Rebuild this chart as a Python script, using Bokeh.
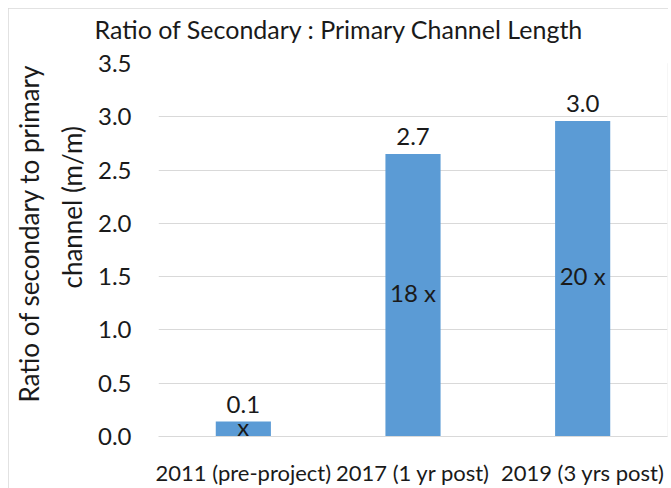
from bokeh.plotting import figure
from bokeh.models import ColumnDataSource, Range1d, FixedTicker, NumeralTickFormatter, Title
from bokeh.core.properties import value
from bokeh.embed import file_html
from bokeh.resources import INLINE

categories = ["2011 (pre-project)", "2017 (1 yr post)", "2019 (3 yrs post)"]
ratios = [0.14, 2.65, 2.96]
top_labels = ["0.1", "2.7", "3.0"]
inner_labels = ["x", "18 x", "20 x"]
y_ticks = [0.0, 0.5, 1.0, 1.5, 2.0, 2.5, 3.0, 3.5]

FONT = "Lato"
BAR = "#5b9bd5"
TXT = "#1a1a1a"
GRID = "#d9d9d9"

xs = list(range(len(categories)))
src = ColumnDataSource(dict(
    x=xs, top=ratios, half=[r / 2 for r in ratios],
    top_labels=top_labels, inner_labels=inner_labels,
))

p = figure(width=660, height=480, x_range=Range1d(-0.5, 2.5), y_range=Range1d(0, 3.5),
           output_backend="svg", toolbar_location=None,
           min_border_left=142, min_border_right=1, min_border_top=53, min_border_bottom=51)
p.styles = {"margin-left": "8px", "margin-top": "8px",
            "outline": "1px solid #d9d9d9", "outline-offset": "-1px"}

p.vbar(x="x", top="top", width=0.325, bottom=0, source=src, fill_color=BAR, line_color=None)
p.text(x="x", y="top", text="top_labels", source=src, text_align="center", text_baseline="bottom",
       y_offset=-9, text_font=value(FONT), text_font_size="24px", text_color=TXT)
p.text(x="x", y="half", text="inner_labels", source=src, text_align="center", text_baseline="middle",
       y_offset=-3, text_font=value(FONT), text_font_size="24px", text_color=TXT)

# chart title
p.title.text = "Ratio of Secondary : Primary Channel Length"
p.title.align = "left"
p.title.offset = -64
p.title.standoff = 6
p.title.text_font = FONT
p.title.text_font_size = "25px"
p.title.text_font_style = "normal"
p.title.text_color = TXT
# spacer between the frame and the chart title (appended = nearer the frame)
p.add_layout(Title(text=" ", text_font_size="1px", standoff=14), "above")

# axes
p.yaxis.ticker = FixedTicker(ticks=y_ticks)
p.yaxis.formatter = NumeralTickFormatter(format="0.0")
p.yaxis.axis_line_color = None
p.yaxis.major_tick_line_color = None
p.yaxis.minor_tick_line_color = None
p.yaxis.major_tick_out = 0
p.yaxis.major_label_standoff = 27
p.yaxis.major_label_text_font = FONT
p.yaxis.major_label_text_font_size = "24px"
p.yaxis.major_label_text_color = TXT

p.xaxis.ticker = FixedTicker(ticks=xs)
p.xaxis.major_label_overrides = {i: c for i, c in zip(xs, categories)}
p.xaxis.axis_line_color = GRID
p.xaxis.major_tick_line_color = None
p.xaxis.minor_tick_line_color = None
p.xaxis.major_tick_out = 0
p.xaxis.major_label_standoff = 22
p.xaxis.major_label_text_font = FONT
p.xaxis.major_label_text_font_size = "22px"
p.xaxis.major_label_text_color = TXT

p.xgrid.grid_line_color = None
p.ygrid.grid_line_color = GRID
p.outline_line_color = None

# two-line y-axis label as stacked left titles
for txt, so, off in [("channel (m/m)", 14, 148),
                     ("Ratio of secondary to primary", 4, 34)]:
    p.add_layout(Title(text=txt, align="left", offset=off, standoff=so,
                       text_font=FONT, text_font_size="26px", text_font_style="normal",
                       text_color=TXT), "left")

open("out.html", "w").write(file_html(p, INLINE))
